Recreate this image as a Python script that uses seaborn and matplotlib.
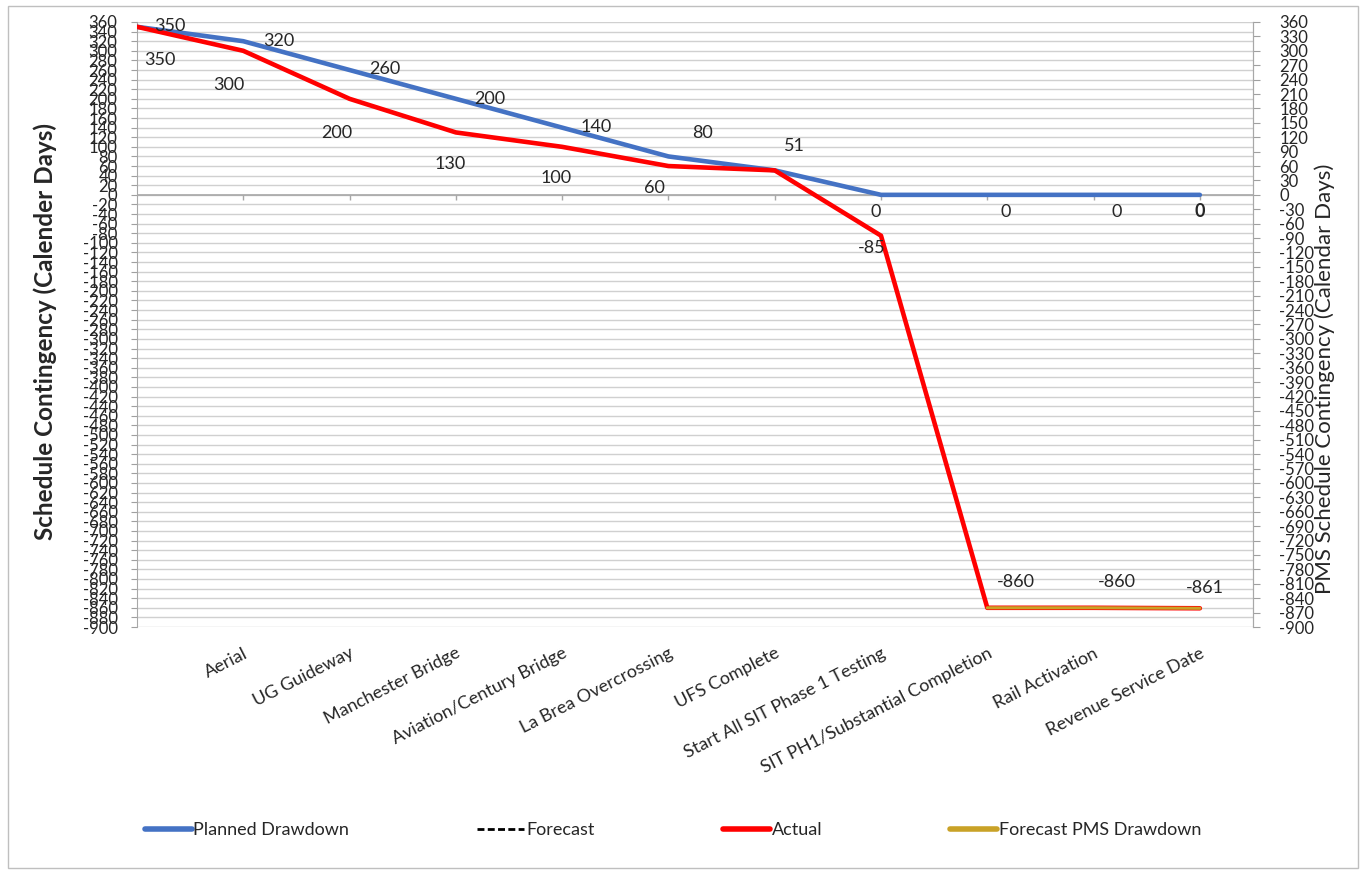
import numpy as np
import pandas as pd
import matplotlib
matplotlib.use("Agg")
import matplotlib.pyplot as plt
from matplotlib.lines import Line2D
from matplotlib.patches import Rectangle
import seaborn as sns

# chart data
categories = ['', 'Aerial', 'UG Guideway', 'Manchester Bridge', 'Aviation/Century Bridge',
              'La Brea Overcrossing', 'UFS Complete', 'Start All SIT Phase 1 Testing',
              'SIT PH1/Substantial Completion', 'Rail Activation', 'Revenue Service Date']
planned = [350, 320, 260, 200, 140, 80, 51, 0, 0, 0, 0]
actual = [350, 300, 200, 130, 100, 60, 51, -85, -860, -860, -861]
pms_categories = ['SIT PH1/Substantial Completion', 'Rail Activation', 'Revenue Service Date']
pms_forecast = [-860, -860, -861]

left_ticks = list(range(360, -901, -20))
right_ticks = list(range(360, -901, -30))

# label offsets in pixels (dx, dy), None = no label
planned_offsets = [(33, 1), (36, 0), (35, 1), (34, 0), (34, 1), (34, 23), (20, 24),
                   (-5, -17), (18, -17), (23, -17), (0, -17)]
actual_offsets = [(23, -33), (-14, -34), (-13, -34), (-6, -32), (-6, -31), (-14, -22), None,
                  (-9, -12), (29, 26), (23, 26), (5, 20)]

BLUE = '#4472C4'
RED = '#FF0000'
GOLD = '#C9A227'

sns.set_style("white")
plt.rcParams['font.family'] = ['Lato', 'DejaVu Sans']

df = pd.DataFrame({'pos': np.arange(len(categories)), 'planned': planned, 'actual': actual})
pms = pd.DataFrame({'pos': [categories.index(c) for c in pms_categories], 'value': pms_forecast})

fig = plt.figure(figsize=(13.64, 8.76), dpi=100)
ax = fig.add_axes([137 / 1364, 1 - 627 / 876, (1253 - 137) / 1364, 605 / 876])

sns.lineplot(data=df, x='pos', y='planned', ax=ax, color=BLUE, linewidth=3.3, zorder=3)
sns.lineplot(data=df, x='pos', y='actual', ax=ax, color=RED, linewidth=3.3, zorder=4)
sns.lineplot(data=pms, x='pos', y='value', ax=ax, color=GOLD, linewidth=2.2, zorder=5)

ax.set_xlim(0, 10.5)
ax.set_ylim(-900, 360)
ax.set_yticks(left_ticks)
ax.set_yticklabels([str(t) for t in left_ticks], fontsize=12)
ax.yaxis.grid(True, color='#D0D0D0', linewidth=1)
ax.tick_params(axis='y', length=4, color='#A0A0A0', pad=10, left=True)

ax.set_xticks(range(1, len(categories)))
ax.set_xticklabels(categories[1:], rotation=27, ha='right', va='top',
                   rotation_mode='anchor', fontsize=13)
ax.tick_params(axis='x', length=0, pad=13)

ax.axhline(0, color='#A8A8A8', linewidth=1.2, zorder=2)
ax.vlines(range(1, len(categories)), -10, 0, color='#A8A8A8', linewidth=1, zorder=2)

for s in ['top', 'bottom']:
    ax.spines[s].set_visible(False)
for s in ['left', 'right']:
    ax.spines[s].set_color('#A8A8A8')

ax.set_xlabel('')
ax.set_ylabel('Schedule Contingency (Calender Days)', fontsize=17.5, fontweight='bold')
ax.yaxis.set_label_coords(-0.072, 0.488)

# data labels
for i, (v, off) in enumerate(zip(planned, planned_offsets)):
    if off is None:
        continue
    weight = 'bold' if i == len(planned) - 1 else 'normal'
    ax.annotate(str(v), (i, v), xytext=off, textcoords='offset pixels',
                ha='center', va='center', fontsize=13, fontweight=weight, zorder=6)
for i, (v, off) in enumerate(zip(actual, actual_offsets)):
    if off is None:
        continue
    ax.annotate(str(v), (i, v), xytext=off, textcoords='offset pixels',
                ha='center', va='center', fontsize=13, zorder=6)

# secondary axis
ax2 = ax.twinx()
ax2.set_ylim(-900, 360)
ax2.set_yticks(right_ticks)
ax2.set_yticklabels([str(t) for t in right_ticks], fontsize=12)
ax2.tick_params(axis='y', length=5, color='#A0A0A0', pad=14, right=True)
for s in ['top', 'bottom', 'left']:
    ax2.spines[s].set_visible(False)
ax2.spines['right'].set_color('#A8A8A8')
ax2.set_ylabel('PMS Schedule Contingency (Calendar Days)', fontsize=16)
ax2.yaxis.set_label_coords(1.055, 0.41)

# legend
handles = [Line2D([], [], color=BLUE, linewidth=4),
           Line2D([], [], color='black', linewidth=2, linestyle=(0, (2.5, 1.2))),
           Line2D([], [], color=RED, linewidth=4),
           Line2D([], [], color=GOLD, linewidth=4)]
labels = ['Planned Drawdown', 'Forecast', 'Actual', 'Forecast PMS Drawdown']
fig.legend(handles, labels, loc='center', bbox_to_anchor=(673 / 1364, 1 - 830 / 876), ncol=4,
           frameon=False, fontsize=13, handlelength=2.6, handletextpad=0.1,
           columnspacing=7.1)

fig.patches.append(Rectangle((8 / 1364, 8 / 876), 1350 / 1364, 862 / 876,
                             transform=fig.transFigure, fill=False,
                             edgecolor='#BFBFBF', linewidth=1))

fig.savefig('out.png', dpi=100)
